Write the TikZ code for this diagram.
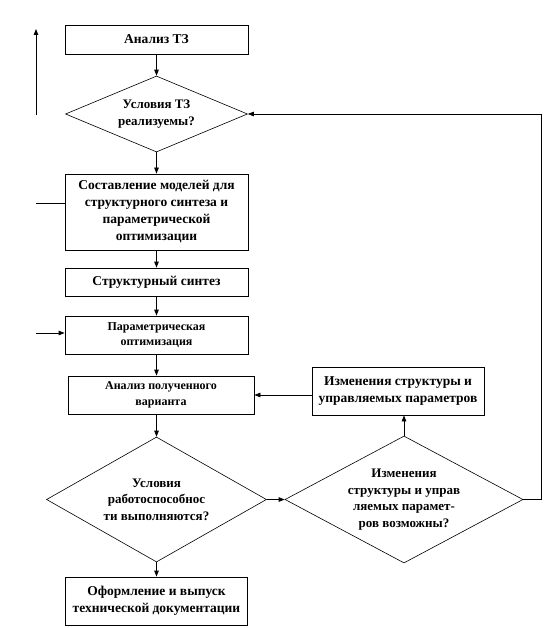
\documentclass[tikz,border=0pt]{standalone}
\usepackage{fontspec}
\setmainfont{Liberation Serif}
\usepackage{tikz}
\usetikzlibrary{positioning}
\usetikzlibrary{arrows.meta}
\usetikzlibrary{shapes.geometric}

\begin{document}
\begin{tikzpicture}[
  x=1pt, y=-1pt,
  block/.style={
    rectangle,
    draw,
    line width=0.8pt,
    inner sep=1pt,
    align=center,
    font=\bfseries\fontsize{13.5}{17}\selectfont
  },
  smalltext/.style={font=\bfseries\fontsize{12}{15.5}\selectfont},
  decision/.style={
    diamond,
    draw,
    line width=0.6pt,
    inner sep=-3pt,
    align=center,
    font=\bfseries\fontsize{13}{16.5}\selectfont
  },
  arr/.style={-{Triangle[length=6pt,width=4.5pt]}, line width=0.8pt},
  plain/.style={line width=0.8pt}
]
\useasboundingbox (0,0) rectangle (544,628);

% Main column
\node[block, minimum width=183, minimum height=29] (analiz) at (156.5,39.5) {Анализ ТЗ};
\node[decision, shape aspect=2.39, minimum width=182, minimum height=76] (uslTZ) at (156.5,114)
{Условия ТЗ\\реализуемы?};
\node[block, minimum width=183, minimum height=76] (modeli) at (156.5,212)
{Составление моделей для\\структурного синтеза и\\параметрической\\оптимизации};
\node[block, minimum width=183, minimum height=28] (strukt) at (156.5,282) {Структурный синтез};
\node[block, smalltext, minimum width=183, minimum height=38] (param) at (156.5,335)
{Параметрическая\\оптимизация};
\node[block, smalltext, minimum width=186, minimum height=38] (anvar) at (161,395)
{Анализ полученного\\варианта};
\node[decision, shape aspect=1.76, minimum width=220, minimum height=125] (rabot) at (156.5,499.5)
{Условия\\работоспособнос\\ти выполняются?};
\node[block, minimum width=182, minimum height=48] (oform) at (156.5,601)
{Оформление и выпуск\\технической документации};

% Right column
\node[block, minimum width=172, minimum height=48] (izm) at (398,391)
{Изменения структуры и\\управляемых параметров};
\node[decision, shape aspect=1.87, minimum width=238, minimum height=127] (vozm) at (404,499.5)
{Изменения\\структуры и управ\\ляемых парамет-\\ров возможны?};

% Free ends on the left and the loop on the right
\coordinate (upS) at (36,115);
\coordinate (upE) at (36,29);
\coordinate (stub) at (36,203);
\coordinate (inS) at (36,333);
\coordinate (loop) at (541.5,0);

% Arrows
\draw[arr] (analiz) -- (uslTZ);
\draw[arr] (uslTZ) -- (modeli);
\draw[arr] (modeli) -- (strukt);
\draw[arr] (strukt) -- (param);
\draw[arr] (param.south) -- (param.south |- anvar.north);
\draw[arr] (anvar.south -| rabot.north) -- (rabot.north);
\draw[arr] (rabot.south) -- (rabot.south |- oform.north);
\draw[arr] (rabot.east) -- (vozm.west);
\draw[arr] (vozm.north) -- (vozm.north |- izm.south);
\draw[arr] (anvar.east -| izm.west) -- (anvar.east);
\draw[arr] (vozm.east) -| (loop |- uslTZ.east) -- (uslTZ.east);

\draw[arr] (upS) -- (upE);
\draw[plain] (stub) -- (stub -| modeli.west);
\draw[arr] (inS) -- (inS -| param.west);

\end{tikzpicture}
\end{document}
